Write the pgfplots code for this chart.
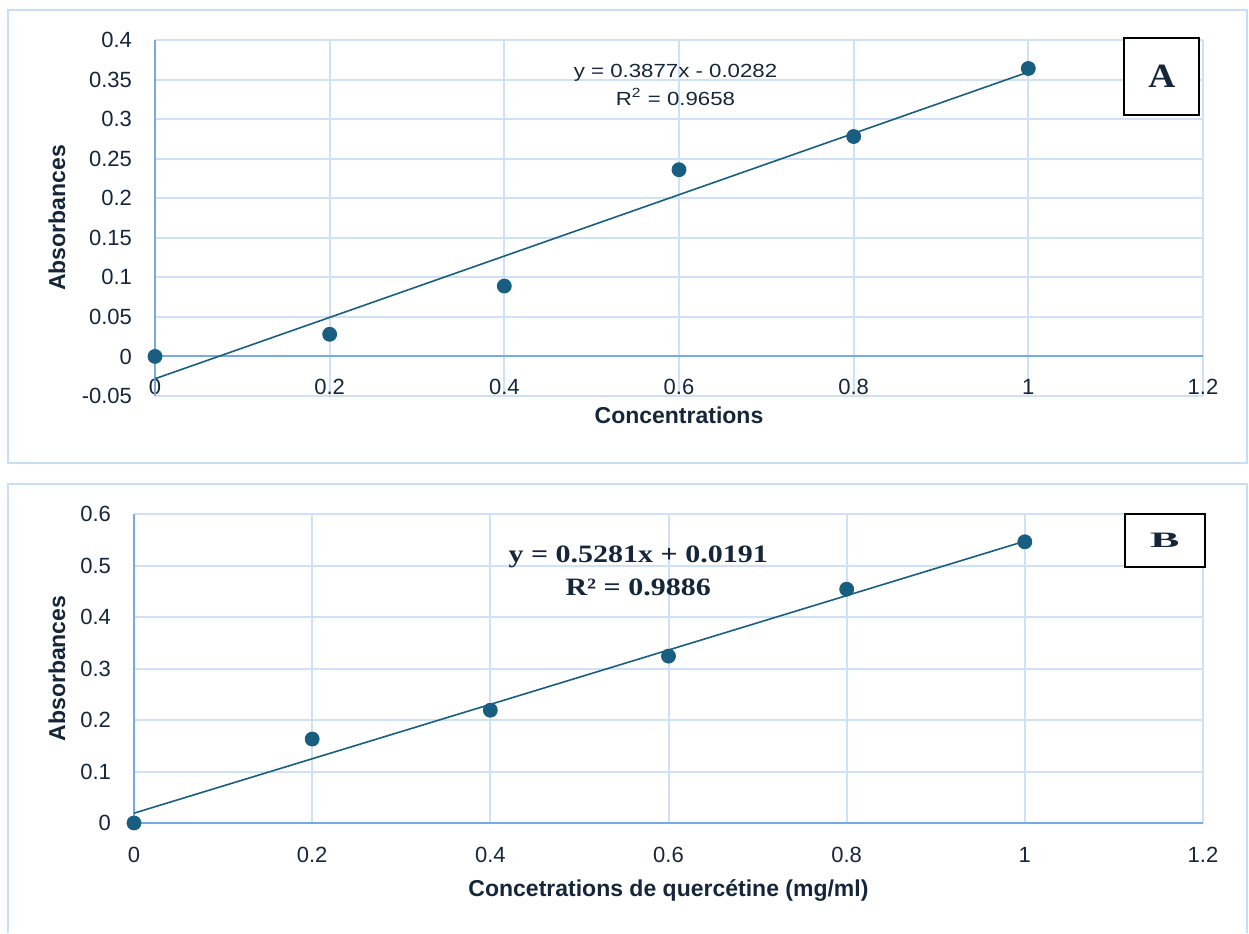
\documentclass[border=0pt]{standalone}
\usepackage{pgfplots}
\pgfplotsset{compat=1.18}
\usepackage{fontspec}
\setmainfont{Liberation Sans}
\newfontfamily\timesf{Liberation Serif}

\definecolor{gridc}{RGB}{206,225,246}
\definecolor{axisc}{RGB}{120,170,225}
\definecolor{framec}{RGB}{200,222,245}
\definecolor{ptc}{RGB}{24,94,128}
\definecolor{txtc}{RGB}{22,38,58}

\pgfplotsset{panel/.style={
    scale only axis, clip=false,
    axis line style={draw=none},
    tick style={draw=none},
    grid=major, grid style={gridc, line width=1pt},
    xmin=0, xmax=1.2,
    xtick={0,0.2,0.4,0.6,0.8,1,1.2},
    xticklabels={0,0.2,0.4,0.6,0.8,1,1.2},
    ticklabel style={font=\fontsize{11}{12}\selectfont, text=txtc},
    yticklabel style={anchor=east, xshift=-8pt},
    label style={font=\bfseries\fontsize{11.5}{13}\selectfont, text=txtc},
    /pgf/number format/assume math mode=true,
}}

\begin{document}
\begin{tikzpicture}
\useasboundingbox (0,0) rectangle (624.5pt,466.5pt);
\draw[framec, line width=1pt] (4pt,461.5pt) rectangle (623.5pt,235pt);
\draw[framec, line width=1pt] (4pt,0pt) -- (4pt,224.5pt) -- (623.5pt,224.5pt) -- (623.5pt,0pt);

% panel A
\begin{axis}[panel,
    at={(77.5pt,268.5pt)}, anchor=south west, width=524pt, height=178pt,
    ymin=-0.05, ymax=0.4,
    ytick={-0.05,0,0.05,0.1,0.15,0.2,0.25,0.3,0.35,0.4},
    yticklabels={-0.05,0,0.05,0.1,0.15,0.2,0.25,0.3,0.35,0.4},
    xticklabel style={anchor=center, yshift=4.5pt},
    xlabel={Concentrations}, ylabel={Absorbances},
    xlabel style={at={(rel axis cs:0.5,0)}, anchor=center, yshift=-9.5pt},
    ylabel style={at={(rel axis cs:0,0.5)}, anchor=center, yshift=49pt},
]
\draw[axisc, line width=1pt] (axis cs:0,0) -- (axis cs:1.2,0);
\draw[axisc, line width=1pt] (axis cs:0,-0.05) -- (axis cs:0,0.4);
\addplot[ptc, line width=0.8pt, no marks] coordinates {(0,-0.0282) (1,0.3595)};
\addplot[only marks, mark=*, mark size=3.5pt, draw=ptc, fill=ptc] coordinates {
    (0,0) (0.2,0.028) (0.4,0.089) (0.6,0.236) (0.8,0.278) (1,0.364)
};
\node[font=\fontsize{9.5}{14}\selectfont, align=center, text=txtc]
    at (axis cs:0.596,0.343) {\scalebox{1.17}[1]{y = 0.3877x - 0.0282}\\\scalebox{1.17}[1]{R\textsuperscript{2} = 0.9658}};
\node[draw=black, line width=1pt, minimum width=37.5pt, minimum height=38.5pt,
    inner sep=0pt, fill=white, text=txtc, font=\timesf\bfseries\fontsize{17}{18}\selectfont]
    at (axis cs:1.153,0.354) {\scalebox{1.1}[1]{A}};
\end{axis}

% panel B
\begin{axis}[panel,
    at={(67pt,55pt)}, anchor=south west, width=534.5pt, height=154.5pt,
    ymin=0, ymax=0.6,
    ytick={0,0.1,0.2,0.3,0.4,0.5,0.6},
    yticklabels={0,0.1,0.2,0.3,0.4,0.5,0.6},
    xticklabel style={anchor=center, yshift=-16pt},
    xlabel={Concetrations de quercétine (mg/ml)}, ylabel={Absorbances},
    xlabel style={at={(rel axis cs:0.5,0)}, anchor=center, yshift=-33.5pt},
    ylabel style={at={(rel axis cs:0,0.5)}, anchor=center, yshift=38.5pt},
]
\draw[axisc, line width=1pt] (axis cs:0,0) -- (axis cs:1.2,0);
\draw[axisc, line width=1pt] (axis cs:0,0) -- (axis cs:0,0.6);
\addplot[ptc, line width=0.8pt, no marks] coordinates {(0,0.0191) (1,0.5472)};
\addplot[only marks, mark=*, mark size=3.5pt, draw=ptc, fill=ptc] coordinates {
    (0,0) (0.2,0.163) (0.4,0.219) (0.6,0.324) (0.8,0.454) (1,0.546)
};
\node[font=\timesf\bfseries\fontsize{12.5}{16.5}\selectfont, align=center, text=txtc]
    at (axis cs:0.566,0.489) {\scalebox{1.2}[1]{y = 0.5281x + 0.0191}\\\scalebox{1.2}[1]{R² = 0.9886}};
\node[draw=black, line width=1pt, minimum width=40pt, minimum height=26.5pt,
    inner sep=0pt, fill=white, text=txtc, font=\timesf\bfseries\fontsize{11}{12}\selectfont]
    at (axis cs:1.157,0.5495) {\scalebox{2}[1]{B}};
\end{axis}
\end{tikzpicture}
\end{document}
